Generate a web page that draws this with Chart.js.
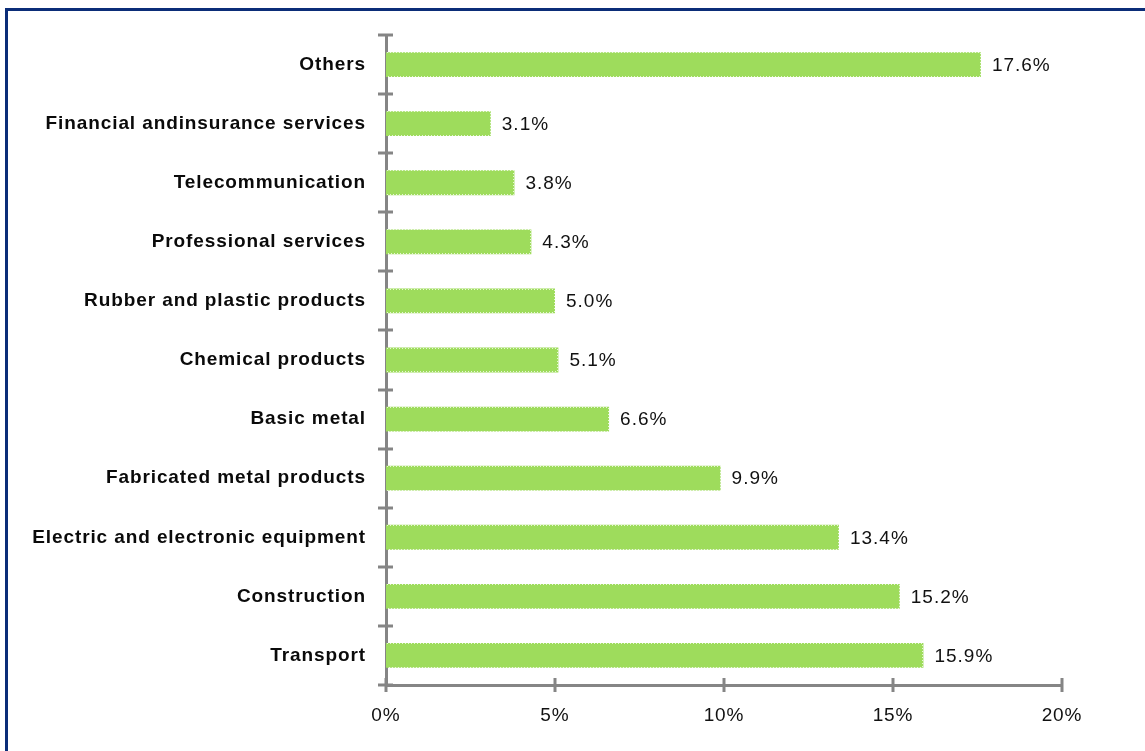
<!DOCTYPE html>
<html>
<head>
<meta charset="utf-8">
<title>Share by sector</title>
<script src="https://cdn.jsdelivr.net/npm/chart.js"></script>
<style>
  html, body { margin: 0; padding: 0; background: #fff; overflow: hidden; }
  #wrap { position: relative; width: 1145px; height: 751px; }
  #frame {
    position: absolute; left: 5px; top: 8px; width: 1200px; height: 800px;
    border-top: 3px solid #0b2d78; border-left: 3px solid #0b2d78;
  }
  canvas { position: absolute; left: 0; top: 0; }
</style>
</head>
<body>
<div id="wrap">
  <div id="frame"></div>
  <canvas id="chart" width="1145" height="751"></canvas>
</div>
<script>
// === DATOS ===
const sectores = [
  'Others',
  'Financial andinsurance services',
  'Telecommunication',
  'Professional services',
  'Rubber and plastic products',
  'Chemical products',
  'Basic metal',
  'Fabricated metal products',
  'Electric and electronic equipment',
  'Construction',
  'Transport'
];
const porcentajes = [17.6, 3.1, 3.8, 4.3, 5.0, 5.1, 6.6, 9.9, 13.4, 15.2, 15.9];
const ticksX = [0, 5, 10, 15, 20];

const colorEje = '#858585';
const fuente = '"Liberation Sans", Arial, sans-serif';

// texto algo espaciado, como lo dibuja Excel
const espaciado = {
  id: 'espaciado',
  beforeDraw(chart) { chart.ctx.letterSpacing = '0.9px'; }
};

// marcas de eje que cruzan la línea
const marcasEje = {
  id: 'marcasEje',
  afterDraw(chart) {
    const { ctx, scales: { x, y } } = chart;
    ctx.save();
    ctx.strokeStyle = colorEje;
    ctx.lineWidth = 3;
    ctx.beginPath();
    // separadores entre categorías
    for (let i = 0; i <= sectores.length; i++) {
      const py = Math.round(y.top + (y.bottom - y.top) * i / sectores.length);
      ctx.moveTo(x.left - 8, py);
      ctx.lineTo(x.left + 7, py);
    }
    ticksX.forEach(v => {
      const px = Math.round(x.getPixelForValue(v));
      ctx.moveTo(px, y.bottom - 7);
      ctx.lineTo(px, y.bottom + 7);
    });
    ctx.stroke();
    ctx.restore();
  }
};

// borde dentado de las barras y etiquetas de valor
const etiquetasValor = {
  id: 'etiquetasValor',
  afterDatasetsDraw(chart) {
    const { ctx } = chart;
    const meta = chart.getDatasetMeta(0);
    ctx.save();
    ctx.strokeStyle = 'rgba(255,255,255,0.75)';
    ctx.lineWidth = 1;
    ctx.setLineDash([1, 2]);
    meta.data.forEach(bar => {
      const h = bar.height / 2;
      ctx.beginPath();
      ctx.moveTo(bar.base + 1, Math.round(bar.y - h) + 0.5);
      ctx.lineTo(Math.round(bar.x) - 0.5, Math.round(bar.y - h) + 0.5);
      ctx.lineTo(Math.round(bar.x) - 0.5, Math.round(bar.y + h) - 0.5);
      ctx.lineTo(bar.base + 1, Math.round(bar.y + h) - 0.5);
      ctx.stroke();
    });
    ctx.setLineDash([]);
    ctx.font = '19px ' + fuente;
    ctx.letterSpacing = '1px';
    ctx.fillStyle = '#111';
    ctx.textAlign = 'left';
    ctx.textBaseline = 'middle';
    meta.data.forEach((bar, i) => {
      ctx.fillText(porcentajes[i].toFixed(1) + '%', bar.x + 11, bar.y + 1);
    });
    ctx.restore();
  }
};

new Chart(document.getElementById('chart'), {
  type: 'bar',
  data: {
    labels: sectores,
    datasets: [{
      data: porcentajes,
      backgroundColor: '#9edc5c',
      borderWidth: 0,
      categoryPercentage: 1,
      barPercentage: 0.42
    }]
  },
  options: {
    indexAxis: 'y',
    responsive: false,
    animation: false,
    layout: { padding: { top: 35, right: 83, left: 0, bottom: 0 } },
    plugins: {
      legend: { display: false },
      tooltip: { enabled: false }
    },
    scales: {
      x: {
        min: 0,
        max: 20,
        afterBuildTicks: s => { s.ticks = ticksX.map(v => ({ value: v })); },
        afterFit: s => { s.height = 66; },
        grid: { display: false, drawTicks: false },
        border: { display: true, color: colorEje, width: 3 },
        ticks: {
          padding: 19,
          color: '#111',
          font: { family: fuente, size: 19 },
          callback: v => v + '%'
        }
      },
      y: {
        afterFit: s => { s.width = 386; },
        grid: { display: false, drawTicks: false },
        border: { display: true, color: colorEje, width: 3 },
        ticks: {
          padding: 20,
          color: '#0a0a0a',
          font: { family: fuente, size: 19, weight: 'bold' }
        }
      }
    }
  },
  plugins: [espaciado, marcasEje, etiquetasValor]
});
</script>
</body>
</html>
